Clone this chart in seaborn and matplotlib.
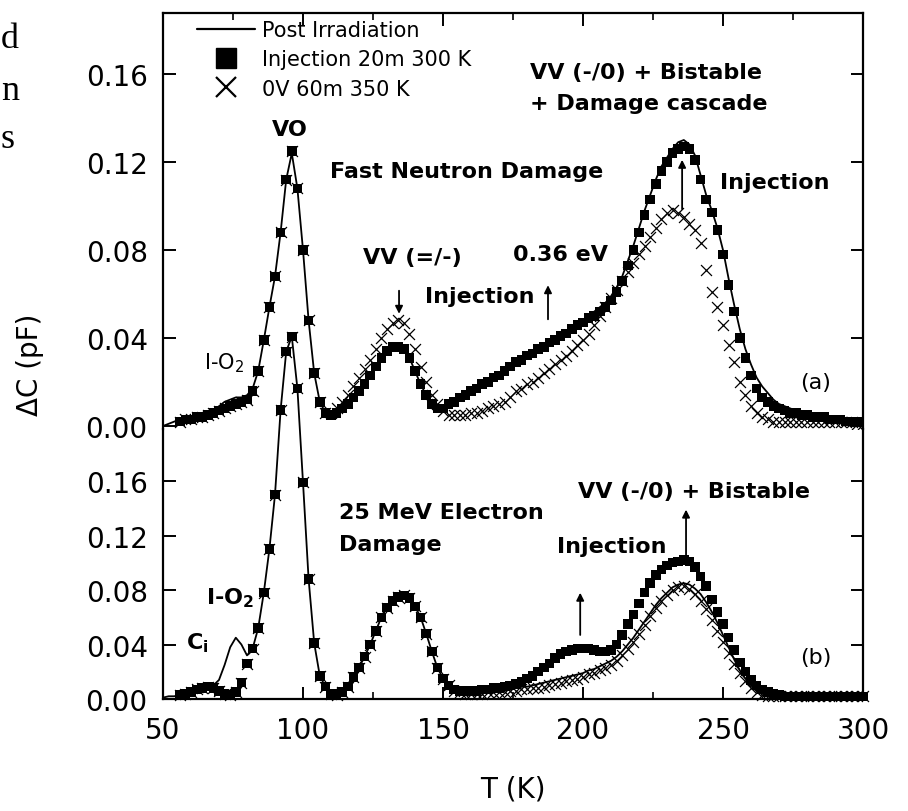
import numpy as np
import matplotlib
matplotlib.use("Agg")
import matplotlib.pyplot as plt
from matplotlib.lines import Line2D
from matplotlib.ticker import MultipleLocator, FixedLocator
import seaborn as sns

nan = np.nan
# measurement grid (K)
T = list(range(50, 301, 2))

# ---- panel (a) Fast neutron damage ----
post_a = [0.000, 0.001, 0.002, 0.003, 0.003, 0.004, 0.004, 0.005, 0.006, 0.007,
          0.009, 0.011, 0.012, 0.013, 0.013, 0.014, 0.017, 0.025, 0.039, 0.054,
          0.068, 0.088, 0.112, 0.124, 0.108, 0.080, 0.048, 0.024, 0.011, 0.006,
          0.005, 0.006, 0.008, 0.010, 0.013, 0.016, 0.019, 0.023, 0.027, 0.031,
          0.034, 0.035, 0.035, 0.034, 0.031, 0.025, 0.019, 0.014, 0.010, 0.008,
          0.008, 0.010, 0.011, 0.013, 0.014, 0.016, 0.017, 0.019, 0.020, 0.022,
          0.023, 0.025, 0.027, 0.028, 0.030, 0.031, 0.033, 0.034, 0.036, 0.037,
          0.039, 0.040, 0.042, 0.044, 0.046, 0.048, 0.050, 0.052, 0.054, 0.056,
          0.059, 0.063, 0.068, 0.075, 0.082, 0.090, 0.098, 0.105, 0.112, 0.118,
          0.122, 0.126, 0.129, 0.130, 0.128, 0.123, 0.114, 0.105, 0.098, 0.090,
          0.080, 0.067, 0.055, 0.044, 0.035, 0.028, 0.022, 0.018, 0.015, 0.012,
          0.010, 0.009, 0.008, 0.007, 0.006, 0.006, 0.005, 0.005, 0.004, 0.004,
          0.003, 0.003, 0.003, 0.002, 0.002, 0.002]
inj_a = [nan, nan, nan, 0.002, 0.003, 0.003, 0.004, 0.004, 0.005, 0.006,
         0.007, 0.008, 0.009, 0.010, 0.011, 0.012, 0.016, 0.025, 0.039, 0.054,
         0.068, 0.088, 0.112, 0.125, 0.108, 0.080, 0.048, 0.024, 0.011, 0.006,
         0.005, 0.006, 0.008, 0.010, 0.013, 0.016, 0.019, 0.023, 0.027, 0.031,
         0.034, 0.036, 0.036, 0.035, 0.031, 0.025, 0.019, 0.014, 0.010, 0.008,
         0.008, 0.010, 0.011, 0.013, 0.014, 0.016, 0.017, 0.019, 0.020, 0.022,
         0.023, 0.025, 0.027, 0.029, 0.030, 0.032, 0.033, 0.035, 0.036, 0.038,
         0.039, 0.041, 0.042, 0.044, 0.046, 0.047, 0.049, 0.050, 0.052, 0.054,
         0.057, 0.061, 0.066, 0.073, 0.080, 0.088, 0.096, 0.103, 0.110, 0.116,
         0.120, 0.124, 0.126, 0.127, 0.126, 0.121, 0.112, 0.103, 0.097, 0.089,
         0.078, 0.064, 0.052, 0.040, 0.031, 0.023, 0.017, 0.013, 0.011, 0.009,
         0.008, 0.007, 0.006, 0.006, 0.005, 0.005, 0.004, 0.004, 0.004, 0.003,
         0.003, 0.003, 0.002, 0.002, 0.002, 0.002]
ov_a = [nan, nan, nan, 0.002, 0.003, 0.003, 0.004, 0.004, 0.005, 0.006,
        0.007, 0.008, 0.009, 0.010, 0.011, 0.012, 0.016, 0.025, 0.039, 0.054,
        0.068, 0.088, 0.112, 0.125, 0.108, 0.080, 0.048, 0.024, 0.011, 0.006,
        0.006, 0.008, 0.011, 0.014, 0.018, 0.022, 0.026, 0.030, 0.035, 0.040,
        0.044, 0.047, 0.048, 0.047, 0.042, 0.035, 0.027, 0.020, 0.014, 0.010,
        0.007, 0.005, 0.005, 0.005, 0.005, 0.006, 0.006, 0.007, 0.008, 0.009,
        0.010, 0.011, 0.013, 0.016, 0.017, 0.019, 0.020, 0.022, 0.024, 0.026,
        0.028, 0.030, 0.032, 0.034, 0.037, 0.039, 0.042, 0.046, 0.050, 0.054,
        0.058, 0.062, 0.066, 0.070, 0.074, 0.078, 0.082, 0.086, 0.090, 0.094,
        0.097, 0.098, 0.097, 0.095, 0.092, 0.089, 0.083, 0.071, 0.061, 0.054,
        0.046, 0.037, 0.029, 0.020, 0.014, 0.009, 0.006, 0.004, 0.003, 0.002,
        0.002, 0.002, 0.002, 0.002, 0.002, 0.002, 0.002, 0.002, 0.002, 0.002,
        0.002, 0.002, 0.002, 0.002, 0.001, 0.001]

# ---- panel (b) 25 MeV electron damage ----
post_b = [0.001, 0.002, 0.002, 0.003, 0.004, 0.005, 0.007, 0.008, 0.009, 0.010,
          0.014, 0.025, 0.038, 0.045, 0.040, 0.032, 0.037, 0.052, 0.078, 0.110,
          0.150, 0.212, 0.255, 0.266, 0.228, 0.159, 0.088, 0.041, 0.017, 0.009,
          0.004, 0.003, 0.005, 0.009, 0.016, 0.023, 0.031, 0.040, 0.050, 0.060,
          0.067, 0.072, 0.075, 0.076, 0.074, 0.068, 0.060, 0.048, 0.035, 0.023,
          0.015, 0.010, 0.007, 0.006, 0.005, 0.005, 0.005, 0.005, 0.006, 0.006,
          0.006, 0.007, 0.007, 0.008, 0.009, 0.009, 0.010, 0.011, 0.012, 0.013,
          0.014, 0.015, 0.016, 0.017, 0.018, 0.019, 0.021, 0.022, 0.024, 0.026,
          0.028, 0.031, 0.035, 0.040, 0.045, 0.051, 0.057, 0.063, 0.069, 0.074,
          0.078, 0.082, 0.084, 0.085, 0.084, 0.081, 0.077, 0.071, 0.064, 0.056,
          0.047, 0.038, 0.029, 0.021, 0.015, 0.010, 0.006, 0.004, 0.003, 0.002,
          0.002, 0.002, 0.002, 0.002, 0.002, 0.002, 0.002, 0.002, 0.002, 0.002,
          0.002, 0.002, 0.002, 0.002, 0.002, 0.002]
inj_b = [nan, nan, nan, 0.003, 0.004, 0.005, 0.007, 0.008, 0.009, 0.008,
         0.006, 0.004, 0.003, 0.005, 0.012, 0.026, 0.037, 0.052, 0.078, 0.110,
         0.150, 0.212, 0.255, 0.266, 0.228, 0.159, 0.088, 0.041, 0.017, 0.009,
         0.004, 0.003, 0.005, 0.009, 0.016, 0.023, 0.031, 0.040, 0.050, 0.060,
         0.067, 0.072, 0.075, 0.076, 0.074, 0.068, 0.060, 0.048, 0.035, 0.023,
         0.015, 0.010, 0.007, 0.006, 0.006, 0.006, 0.006, 0.007, 0.007, 0.008,
         0.008, 0.009, 0.010, 0.011, 0.013, 0.015, 0.017, 0.020, 0.023, 0.026,
         0.030, 0.033, 0.035, 0.036, 0.037, 0.037, 0.037, 0.036, 0.035, 0.035,
         0.036, 0.040, 0.047, 0.055, 0.062, 0.070, 0.078, 0.085, 0.091, 0.095,
         0.098, 0.100, 0.101, 0.102, 0.101, 0.097, 0.090, 0.083, 0.073, 0.064,
         0.055, 0.045, 0.036, 0.027, 0.020, 0.014, 0.010, 0.007, 0.005, 0.004,
         0.003, 0.002, 0.002, 0.002, 0.002, 0.002, 0.002, 0.002, 0.002, 0.002,
         0.002, 0.002, 0.002, 0.002, 0.002, 0.002]
ov_b = [nan, nan, nan, 0.003, 0.004, 0.005, 0.007, 0.008, 0.009, 0.008,
        0.006, 0.004, 0.003, 0.005, 0.012, 0.026, 0.037, 0.052, 0.078, 0.110,
        0.150, 0.212, 0.255, 0.266, 0.228, 0.159, 0.088, 0.041, 0.017, 0.009,
        0.004, 0.003, 0.005, 0.009, 0.016, 0.023, 0.031, 0.040, 0.050, 0.060,
        0.067, 0.072, 0.075, 0.076, 0.074, 0.068, 0.060, 0.048, 0.035, 0.023,
        0.015, 0.010, 0.006, 0.005, 0.004, 0.004, 0.004, 0.004, 0.005, 0.005,
        0.005, 0.005, 0.006, 0.006, 0.007, 0.007, 0.008, 0.008, 0.009, 0.010,
        0.011, 0.012, 0.013, 0.014, 0.015, 0.016, 0.018, 0.019, 0.021, 0.023,
        0.025, 0.028, 0.032, 0.037, 0.042, 0.048, 0.054, 0.061, 0.067, 0.072,
        0.076, 0.080, 0.082, 0.083, 0.081, 0.077, 0.072, 0.066, 0.058, 0.050,
        0.042, 0.034, 0.026, 0.019, 0.013, 0.008, 0.005, 0.003, 0.002, 0.002,
        0.002, 0.002, 0.002, 0.002, 0.002, 0.002, 0.002, 0.002, 0.002, 0.002,
        0.002, 0.002, 0.002, 0.002, 0.002, 0.002]

series_labels = ["Post Irradiation", "Injection 20m 300 K", "0V 60m 350 K"]
x_ticks = [50, 100, 150, 200, 250, 300]
y_ticks = [0.00, 0.04, 0.08, 0.12, 0.16]
y_ticklabels = ["0.00", "0.04", "0.08", "0.12", "0.16"]

sns.set_theme(style="ticks")
plt.rcParams['font.family'] = ['DejaVu Sans']
plt.rcParams['mathtext.fontset'] = 'dejavusans'
for k in ('text.color', 'axes.labelcolor', 'xtick.color', 'ytick.color',
          'axes.edgecolor', 'xtick.labelcolor', 'ytick.labelcolor'):
    plt.rcParams[k] = 'black'

W, H = 908, 812
fig = plt.figure(figsize=(W / 100, H / 100), dpi=100)
L, R = 163 / W, 863 / W
ax_a = fig.add_axes([L, 1 - 430 / H, R - L, (430 - 14) / H])
ax_b = fig.add_axes([L, 1 - 700 / H, R - L, (700 - 430) / H])
ax_b.set_zorder(3)
ax_b.patch.set_visible(False)

def draw(ax, post, inj, ov, clip):
    sns.scatterplot(x=T, y=ov, marker='x', s=62, color='black', linewidth=0.9,
                    ax=ax, zorder=2, legend=False, clip_on=clip)
    sns.scatterplot(x=T, y=inj, marker='s', s=46, color='black', edgecolor='none',
                    linewidth=0, ax=ax, zorder=3, legend=False, clip_on=clip)
    sns.lineplot(x=T, y=post, color='black', lw=1.3, ax=ax, zorder=4,
                 legend=False, clip_on=clip, errorbar=None)

draw(ax_a, post_a, inj_a, ov_a, True)
draw(ax_b, post_b, inj_b, ov_b, False)

for ax in (ax_a, ax_b):
    ax.set_xlim(50, 300)
    ax.set_xlabel("")
    ax.set_ylabel("")
    ax.yaxis.set_major_locator(FixedLocator(y_ticks))
    ax.set_yticklabels(y_ticklabels)
    ax.xaxis.set_major_locator(FixedLocator(x_ticks))
    ax.xaxis.set_minor_locator(MultipleLocator(25))
    ax.tick_params(which='major', direction='in', length=9, width=1.4,
                   labelsize=20, left=True, right=True, colors='black')
    ax.tick_params(axis='y', pad=11)
    ax.tick_params(which='minor', direction='in', length=5, width=1.2, colors='black')
    for s in ax.spines.values():
        s.set_linewidth(1.6)
        s.set_color('black')

ax_a.set_ylim(-0.00136, 0.18773)
ax_b.set_ylim(0.0, 0.19817)
ax_a.spines['bottom'].set_visible(False)
ax_b.spines['top'].set_visible(False)
ax_a.tick_params(axis='x', which='both', bottom=False, labelbottom=False,
                 top=True, labeltop=False)
ax_b.tick_params(axis='x', which='both', top=False, bottom=True, labelbottom=True)
ax_b.tick_params(axis='x', which='major', pad=12)

fig.text(30 / W, 1 - 365 / H, "ΔC (pF)", rotation=90, ha='center', va='center',
         fontsize=20, color='black')
fig.text(513 / W, 1 - 790 / H, "T (K)", ha='center', va='center', fontsize=20,
         color='black')

# stray letters from the page at the left edge
for ch, yb in (("d", 48), ("n", 100), ("s", 148)):
    fig.text(1 / W, 1 - yb / H, ch, ha='left', va='baseline', fontsize=26,
             family=['Liberation Serif', 'DejaVu Serif'], color='black')

bold = dict(fontsize=16, fontweight='bold', color='black')
plain = dict(fontsize=16, color='black')
arrow = dict(arrowstyle='-|>', lw=1.3, color='black', mutation_scale=11,
             shrinkA=0, shrinkB=0)

# panel (a) annotations
ax_a.text(95.4, 0.135, "VO", ha='center', va='center', **bold)
ax_a.text(109.6, 0.116, "Fast Neutron Damage", ha='left', va='center', **bold)
ax_a.text(181, 0.161, "VV (-/0) + Bistable", ha='left', va='center', **bold)
ax_a.text(181, 0.147, "+ Damage cascade", ha='left', va='center', **bold)
ax_a.text(249, 0.111, "Injection", ha='left', va='center', **bold)
ax_a.annotate("", xy=(235.4, 0.121), xytext=(235.4, 0.0986), arrowprops=arrow)
ax_a.text(139, 0.077, "VV (=/-)", ha='center', va='center', **bold)
ax_a.annotate("", xy=(134.3, 0.051), xytext=(134.3, 0.0615), arrowprops=arrow)
ax_a.text(175, 0.078, "0.36 eV", ha='left', va='center', **bold)
ax_a.text(143.6, 0.059, "Injection", ha='left', va='center', **bold)
ax_a.annotate("", xy=(187.5, 0.064), xytext=(187.5, 0.0485), arrowprops=arrow)
ax_a.text(64.5, 0.029, r"I-O$_{2}$", ha='left', va='center', fontsize=15, color='black')
ax_a.text(283, 0.020, "(a)", ha='center', va='center', **plain)

# panel (b) annotations
ax_b.text(113, 0.137, "25 MeV Electron", ha='left', va='center', **bold)
ax_b.text(113, 0.114, "Damage", ha='left', va='center', **bold)
ax_b.text(239.6, 0.153, "VV (-/0) + Bistable", ha='center', va='center', **bold)
ax_b.text(190.7, 0.112, "Injection", ha='left', va='center', **bold)
ax_b.annotate("", xy=(236.8, 0.139), xytext=(236.8, 0.103), arrowprops=arrow)
ax_b.annotate("", xy=(199, 0.078), xytext=(199, 0.047), arrowprops=arrow)
ax_b.text(65.5, 0.075, r"I-O$_{\mathbf{2}}$", ha='left', va='center', **bold)
ax_b.text(58.3, 0.042, r"C$_{\mathbf{i}}$", ha='left', va='center', **bold)
ax_b.text(283, 0.031, "(b)", ha='center', va='center', **plain)

handles = [Line2D([], [], color='black', lw=1.6),
           Line2D([], [], marker='s', ls='', color='black', markersize=15),
           Line2D([], [], marker='x', ls='', color='black', markersize=15, mew=1.6)]
leg = ax_a.legend(handles, series_labels, loc='upper left',
                  bbox_to_anchor=(197 / W, 1 - 21 / H), bbox_transform=fig.transFigure,
                  frameon=False, fontsize=15, handlelength=2.8, handletextpad=0.3,
                  labelspacing=0.45, borderpad=0, borderaxespad=0)
for t in leg.get_texts():
    t.set_color('black')

fig.savefig("out.png", dpi=100)
